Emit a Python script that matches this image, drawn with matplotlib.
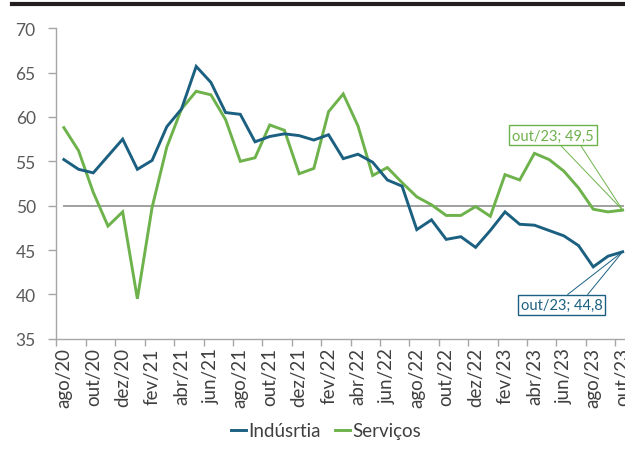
import matplotlib
matplotlib.use("Agg")
import matplotlib.pyplot as plt
from matplotlib.lines import Line2D
import numpy as np

plt.rcParams['font.family'] = ['Lato', 'DejaVu Sans']

months = ['jan', 'fev', 'mar', 'abr', 'mai', 'jun', 'jul', 'ago', 'set', 'out', 'nov', 'dez']
categories = []
for y in (20, 21, 22, 23):
    for m in months:
        categories.append(f"{m}/{y}")
categories = categories[categories.index('ago/20'):categories.index('out/23') + 1]

industria = [55.2, 54.1, 53.7, 55.6, 57.5, 54.1, 55.1, 58.9, 60.9, 65.7,
             63.9, 60.5, 60.3, 57.2, 57.8, 58.1, 57.9, 57.4, 58.0, 55.3,
             55.8, 54.9, 52.9, 52.2, 47.3, 48.4, 46.2, 46.5, 45.3, 47.2,
             49.3, 47.9, 47.8, 47.2, 46.6, 45.5, 43.1, 44.3, 44.8]
servicos = [58.8, 56.2, 51.5, 47.7, 49.3, 39.5, 49.8, 56.6, 60.9, 62.9,
            62.5, 59.7, 55.0, 55.4, 59.1, 58.5, 53.6, 54.2, 60.6, 62.6,
            59.0, 53.4, 54.3, 52.6, 51.0, 50.1, 48.9, 48.9, 49.9, 48.8,
            53.5, 52.9, 55.9, 55.2, 53.9, 52.0, 49.6, 49.3, 49.5]
referencia = [50.0] * len(categories)
series_names = ['Indúsrtia', 'Serviços']
yticks = [35, 40, 45, 50, 55, 60, 65, 70]

BLUE = '#1B6080'
GREEN = '#6DB24B'
GRAY = '#A6A6A6'
TXT = '#595959'

fig = plt.figure(figsize=(6.25, 4.52), dpi=100)
ax = fig.add_axes([56.5 / 625, 1 - 339.7 / 452, (630 - 56.5) / 625, (339.7 - 29.3) / 452])

x = np.arange(len(categories))
ax.plot(x, referencia, color='#A0A0A0', lw=1.4, zorder=1)
ax.plot(x, industria, color=BLUE, lw=2.1, label=series_names[0], zorder=3,
        solid_joinstyle='miter')
ax.plot(x, servicos, color=GREEN, lw=2.1, label=series_names[1], zorder=2,
        solid_joinstyle='miter')

ax.set_xlim(-0.5, len(categories) - 0.5)
ax.set_ylim(35, 70)
ax.set_yticks(yticks)
ax.set_yticklabels([str(v) for v in yticks])

ax.set_xticks(x[::2])
ax.set_xticklabels(categories[::2], rotation=90)
ax.set_xticks(np.arange(-0.5, len(categories), 2), minor=True)
ax.tick_params(axis='x', which='major', length=0, pad=6, labelsize=13.5, labelcolor='#404040')
ax.tick_params(axis='x', which='minor', length=5, color=GRAY, width=1)
ax.tick_params(axis='y', length=6, color=GRAY, width=1, pad=9, labelsize=12.5, labelcolor=TXT)

for s in ('top', 'right'):
    ax.spines[s].set_visible(False)
for s in ('left', 'bottom'):
    ax.spines[s].set_color(GRAY)
    ax.spines[s].set_linewidth(1)

# data labels with leader lines
def callout(val, color, box_off, leaders):
    xi = len(categories) - 1
    lab = f"{categories[xi]}; {str(val).replace('.', ',')}"
    for lo in leaders:
        ax.annotate('', xy=(xi, val), xytext=lo, textcoords='offset pixels',
                    arrowprops=dict(arrowstyle='-', color=color, lw=0.7,
                                    shrinkA=0, shrinkB=0), annotation_clip=False)
    ax.annotate(lab, xy=(xi, val), xytext=box_off, textcoords='offset pixels',
                ha='center', va='center', color=color, fontsize=10.5,
                bbox=dict(boxstyle='square,pad=0.2', fc='white', ec=color, lw=1),
                annotation_clip=False, zorder=5)

callout(servicos[-1], GREEN, (-69.5, 74.7), [(-62, 64.7), (-42, 64.7)])
callout(industria[-1], BLUE, (-61, -53), [(-55, -42.7), (-35, -42.7)])

leg = fig.legend(handles=[Line2D([], [], color=BLUE, lw=2.1), Line2D([], [], color=GREEN, lw=2.1)],
                 labels=series_names, loc='center', bbox_to_anchor=(326 / 625, 1 - 432 / 452),
                 ncol=2, frameon=False, fontsize=13.5, handlelength=0.8, handletextpad=0.1,
                 columnspacing=0.8, labelcolor='#404040')

fig.add_artist(Line2D([12 / 625, 1.0], [1 - 5 / 452, 1 - 5 / 452], color='#231F20', lw=3,
                      transform=fig.transFigure))

fig.savefig('out.png', dpi=100)
